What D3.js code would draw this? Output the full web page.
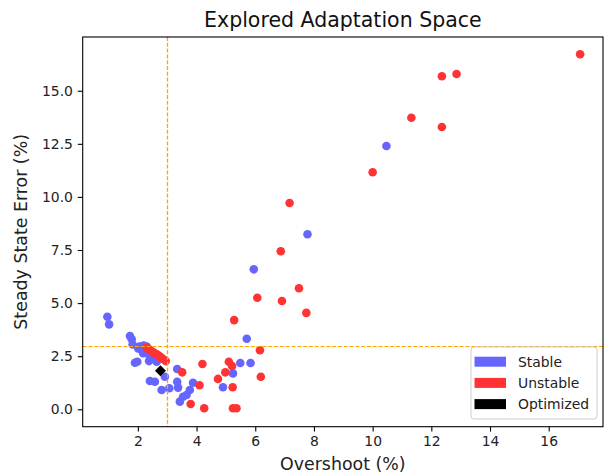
<!DOCTYPE html>
<html>
<head>
<meta charset="utf-8">
<script src="https://cdn.jsdelivr.net/npm/d3@7"></script>
<style>
  html, body { margin: 0; padding: 0; background: #fff; }
  svg { display: block; font-family: "DejaVu Sans", sans-serif; }
</style>
</head>
<body>
<svg id="chart" width="604" height="475"></svg>
<script>
// ---- data ----
const stableX = [0.96, 1.02, 1.73, 1.79, 1.82, 2.01, 2.13, 2.05, 2.20, 2.30, 2.18, 2.35, 2.50, 1.98, 1.90, 2.38, 2.64, 2.92, 3.34, 2.41, 2.58, 2.81, 3.07, 3.34, 3.37, 3.88, 3.77, 3.66, 3.54, 3.43, 4.90, 5.24, 5.49, 5.84, 5.71, 5.95, 7.78, 10.47];
const stableY = [4.36, 4.00, 3.45, 3.30, 3.05, 2.87, 2.79, 2.95, 3.00, 2.95, 2.64, 2.60, 2.45, 2.24, 2.19, 2.27, 2.24, 1.53, 1.90, 1.33, 1.30, 0.91, 0.99, 1.30, 1.02, 1.25, 0.91, 0.67, 0.59, 0.36, 1.04, 1.69, 2.18, 2.18, 3.32, 6.59, 8.24, 12.40];
const unstableX = [17.07, 12.36, 12.86, 11.32, 12.36, 10.00, 7.17, 6.87, 7.49, 6.07, 6.91, 7.74, 5.28, 6.16, 4.20, 5.10, 5.21, 4.98, 6.19, 4.73, 5.23, 4.10, 4.26, 5.24, 5.36, 3.80, 3.51, 2.30, 2.35, 2.41, 2.47, 2.52, 2.58, 2.64, 2.70, 2.75, 2.80, 2.86, 2.95];
const unstableY = [16.72, 15.68, 15.79, 13.73, 13.29, 11.16, 9.71, 7.44, 5.70, 5.25, 5.10, 4.54, 4.20, 2.78, 2.13, 2.24, 2.04, 1.74, 1.53, 1.43, 1.04, 1.13, 0.05, 0.05, 0.05, 0.25, 1.74, 2.90, 2.85, 2.79, 2.73, 2.68, 2.63, 2.59, 2.53, 2.48, 2.42, 2.37, 2.27];
const optimizedX = [2.77];
const optimizedY = [1.82];
const thresholdX = 3;
const thresholdY = 3;
const xTicks = [2, 4, 6, 8, 10, 12, 14, 16];
const yTicks = [0, 2.5, 5, 7.5, 10, 12.5, 15];
const legendLabels = ["Stable", "Unstable", "Optimized"];
const legendColors = ["#6666ff", "#ff3333", "#000000"];

// ---- layout ----
const svg = d3.select("#chart");
const L = 82.7, R = 603, T = 37, B = 426.7;
const x = d3.scaleLinear().domain([0.12, 17.85]).range([L, R]);
const y = d3.scaleLinear().domain([-0.82, 17.53]).range([B, T]);

const stable = stableX.map((v, i) => ({x: v, y: stableY[i]}));
const unstable = unstableX.map((v, i) => ({x: v, y: unstableY[i]}));
const optimized = optimizedX.map((v, i) => ({x: v, y: optimizedY[i]}));

const plot = svg.append("g");
plot.selectAll("circle.s").data(stable).join("circle")
  .attr("class", "s").attr("cx", d => x(d.x)).attr("cy", d => y(d.y))
  .attr("r", 4.3).attr("fill", "#6666ff");
plot.selectAll("circle.u").data(unstable).join("circle")
  .attr("class", "u").attr("cx", d => x(d.x)).attr("cy", d => y(d.y))
  .attr("r", 4.3).attr("fill", "#ff3333");
plot.selectAll("path.o").data(optimized).join("path")
  .attr("class", "o")
  .attr("d", d => { const cx = x(d.x), cy = y(d.y), h = 5.5;
    return `M${cx},${cy - h}L${cx + h},${cy}L${cx},${cy + h}L${cx - h},${cy}Z`; })
  .attr("fill", "#000");

// threshold lines (snapped to pixel centres)
const tx = Math.round(x(thresholdX)) + 0.5;
const ty = Math.round(y(thresholdY)) + 0.5;
svg.append("line").attr("x1", tx).attr("x2", tx).attr("y1", T).attr("y2", B)
  .attr("stroke", "#ffa500").attr("stroke-width", 1.3).attr("stroke-dasharray", "4,1.8");
svg.append("line").attr("x1", L).attr("x2", R).attr("y1", ty).attr("y2", ty)
  .attr("stroke", "#ffa500").attr("stroke-width", 1.1).attr("stroke-dasharray", "4,1.8");

// axes
const xAxis = svg.append("g").attr("transform", `translate(0,${B})`)
  .call(d3.axisBottom(x).tickValues(xTicks).tickFormat(d3.format("d")).tickSize(4.9).tickPadding(4.9));
const yAxis = svg.append("g").attr("transform", `translate(${L},0)`)
  .call(d3.axisLeft(y).tickValues(yTicks).tickFormat(d3.format(".1f")).tickSize(4.9).tickPadding(4.9));
[xAxis, yAxis].forEach(g => {
  g.select(".domain").remove();
  g.selectAll(".tick line").attr("stroke", "#000").attr("stroke-width", 1.1);
  g.selectAll(".tick text").attr("font-family", "DejaVu Sans").attr("font-size", 13.9).attr("fill", "#222");
});
// spines
svg.append("rect").attr("x", L).attr("y", T).attr("width", R - L).attr("height", B - T)
  .attr("fill", "none").attr("stroke", "#000").attr("stroke-width", 1.1);

// titles
svg.append("text").attr("x", (L + R) / 2).attr("y", 27).attr("text-anchor", "middle")
  .attr("font-size", 20.5).attr("fill", "#111").text("Explored Adaptation Space");
svg.append("text").attr("x", (L + R) / 2).attr("y", 470).attr("text-anchor", "middle")
  .attr("font-size", 17.4).attr("fill", "#222").text("Overshoot (%)");
svg.append("text").attr("transform", `translate(27,${(T + B) / 2}) rotate(-90)`).attr("text-anchor", "middle")
  .attr("font-size", 17.4).attr("fill", "#222").text("Steady State Error (%)");

// legend
const lg = svg.append("g").attr("transform", "translate(471,347)");
lg.append("rect").attr("width", 126).attr("height", 72).attr("rx", 3)
  .attr("fill", "#fff").attr("fill-opacity", 0.8).attr("stroke", "#ccc").attr("stroke-width", 1);
legendLabels.forEach((lab, i) => {
  const cy = 14.7 + i * 21.2;
  lg.append("rect").attr("x", 3.5).attr("y", cy - 5).attr("width", 31.5).attr("height", 10).attr("fill", legendColors[i]);
  lg.append("text").attr("x", 47).attr("y", cy + 5).attr("font-size", 13.9).attr("fill", "#222").text(lab);
});
</script>
</body>
</html>
